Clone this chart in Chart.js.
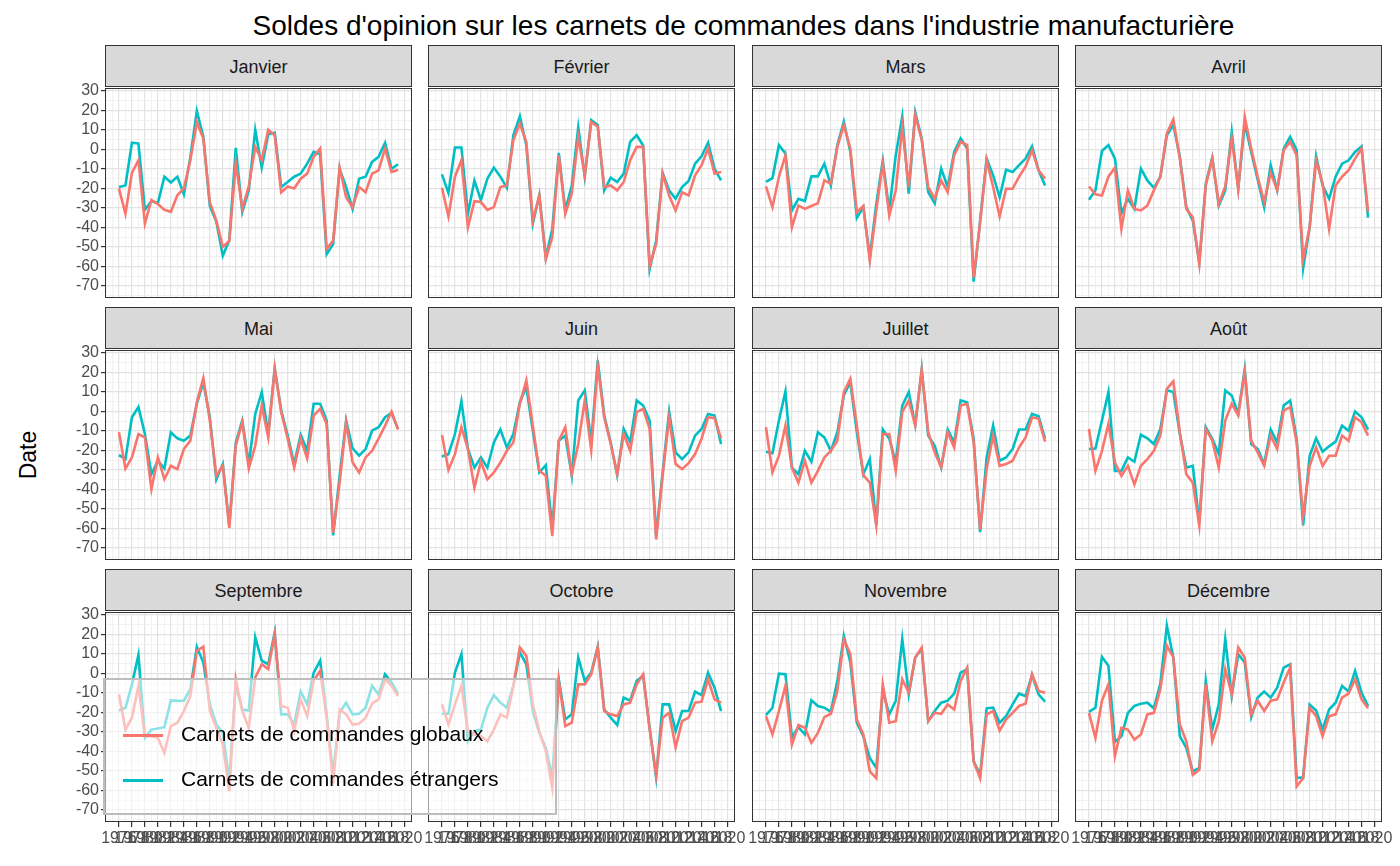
<!DOCTYPE html>
<html>
<head>
<meta charset="utf-8">
<script src="https://cdn.jsdelivr.net/npm/chart.js@4"></script>
<style>
  body { margin: 0; background: #fff; font-family: "Liberation Sans", Arial, sans-serif; }
  #wrap { position: relative; width: 1400px; height: 866px; overflow: hidden; }
  .title { position: absolute; top: 10px; left: 105px; width: 1277px; text-align: center; font-size: 28px; color: #000; white-space: nowrap; }
  .ytitle { position: absolute; left: 28px; top: 455px; transform: translate(-50%, -50%) rotate(-90deg); font-size: 23px; color: #000; }
  .strip { position: absolute; height: 42px; background: #D9D9D9; border: 1px solid #333; box-sizing: border-box;
           text-align: center; line-height: 42px; font-size: 18px; color: #1a1a1a; }
  canvas { position: absolute; }
  .legend { position: absolute; left: 103px; top: 678px; width: 454px; height: 137px; box-sizing: border-box;
            background: rgba(255,255,255,0.55); border: 2px solid #bdbdbd; }
  .legend .item { position: absolute; left: 18px; font-size: 21px; color: #000; white-space: nowrap; }
  .legend .swatch { display: inline-block; width: 40px; height: 3px; vertical-align: middle; margin-right: 18px; }
</style>
</head>
<body>
<div id="wrap">
  <div class="title">Soldes d'opinion sur les carnets de commandes dans l'industrie manufacturière</div>
  <div class="ytitle">Date</div>
</div>
<script>
const years = [];
for (let y = 1976; y <= 2019; y++) years.push(y);
const tickYears = [1976, 1978, 1980, 1982, 1984, 1986, 1988, 1990, 1992, 1994, 1996, 1998, 2000, 2002, 2004, 2006, 2008, 2010, 2012, 2014, 2016, 2018, 2020];
const yTicks = [30, 20, 10, 0, -10, -20, -30, -40, -50, -60, -70];

const months = ["Janvier", "Février", "Mars", "Avril", "Mai", "Juin", "Juillet", "Août", "Septembre", "Octobre", "Novembre", "Décembre"];
const seriesNames = ["Carnets de commandes globaux", "Carnets de commandes étrangers"];

// G = globaux, E = étrangers
const janG = [-20,-33,-12,-5.5,-38,-26,-28,-31,-32,-23.5,-20,-5.5,14,5.6,-27,-36.5,-50,-47,-7,-30.5,-19,1.3,-5.5,10,7.3,-22,-19,-20,-15,-12.4,-3.8,0.5,-51,-46.8,-9.3,-24.5,-29.6,-19.3,-22,-12.4,-10.7,0.5,-11.6,-10.4];
const janE = [-19.3,-18.5,3.4,3,-31,-26.5,-27.5,-14,-17,-14,-23,-4,19.7,6.5,-29,-37,-54.5,-46.5,0.8,-32,-21,10,-9.3,7.8,8.5,-19.3,-16.7,-14,-12.4,-7.3,-1.3,-2.5,-53.7,-48.5,-10,-19.3,-30.5,-15,-14,-6.4,-3.8,3.4,-10,-7.6];
const fevG = [-19.7,-34.4,-14,-5.6,-40,-26.5,-27,-31,-29.6,-19.3,-18.5,4.7,13.3,3.8,-36.5,-23.6,-56.3,-45,-3,-33,-22.7,6.5,-13.3,14,11.6,-19.3,-18.5,-21,-16.7,-5.6,1.3,1.3,-59.7,-48.5,-12.4,-23.6,-31.3,-22,-23.6,-13.3,-8.1,0.4,-12.4,-11.6];
const fevE = [-12.8,-22.4,1,1,-33,-16,-26,-15,-9.3,-14,-19.7,7.3,17,2,-38,-23.6,-55.4,-40.8,-1.8,-31.3,-18.5,11.3,-14,15,12.5,-21,-14.5,-16.7,-12.4,3.9,7.3,2,-61.4,-46.8,-12,-21,-25.3,-19.3,-16.2,-7.3,-3.5,3.4,-10,-15.9];
const marG = [-19,-29.6,-14,-3,-40,-28.8,-30.5,-29,-27.6,-15.9,-17.6,1.3,12.5,0.4,-32.2,-29,-57.1,-31.3,-7.3,-33.9,-21,11.6,-19.3,17.6,4.7,-19.3,-25.3,-15.9,-21.9,-3,3.9,2.2,-65.7,-37.4,-5.6,-19.3,-34.4,-20.2,-20.2,-14,-8.7,-0.4,-10.7,-15];
const marE = [-16.7,-14.7,2.2,-2.1,-31.3,-25.3,-26.5,-13.8,-13.8,-7.3,-18.5,2.2,14.2,-1.3,-35.1,-29.6,-55.4,-27.9,-5.6,-31.3,-3,16.8,-22.7,19,5.6,-21.9,-27.6,-9.9,-19.3,-1.3,5.6,0.4,-67.8,-36.5,-4.7,-13.3,-24.5,-10.4,-11.6,-8.1,-4.7,1.6,-10.7,-18.5];
const avrG = [-19,-23,-23.6,-14,-9.3,-40.8,-21,-30.5,-31.3,-28.8,-21,-14,8.2,15.4,-4.7,-30.5,-34.8,-58.8,-18.5,-4.7,-27.9,-19,5.6,-20.2,16.8,0.4,-14,-27,-12,-21,-0.4,3.9,-3,-56.3,-39.9,-5.6,-17.6,-40.8,-18.5,-14,-10.7,-4.7,0.4,-32];
const avrE = [-25.8,-21,-0.8,2.2,-4.7,-32.7,-25.3,-30.5,-9.9,-15.9,-19.7,-14,7.3,12.5,-3.8,-29.6,-36.5,-58,-17.6,-4.2,-28.8,-21,9,-20.2,13.3,-1.3,-15.5,-29.6,-8.1,-21,0.4,6.5,-0.4,-60.9,-39.9,-3.5,-18.5,-25.3,-14,-7.3,-5.6,-1.3,1.6,-35];
const maiG = [-10.7,-29.3,-23.6,-11.6,-13.3,-39.9,-23.6,-34.8,-27.9,-29.6,-19.3,-15,4.7,17.1,-4.7,-33,-27.9,-59.7,-17.6,-5.6,-29.3,-17.6,3,-13.3,21.9,-0.4,-14,-28.8,-14,-24.1,-2.1,1.3,-6.4,-62.3,-36.5,-5.6,-26.2,-31.3,-23.6,-20.2,-14,-7.3,-0.1,-9.3];
const maiE = [-22.4,-24.5,-3,2.2,-11.6,-32.2,-25.3,-29.3,-10.7,-13.8,-15,-12.4,3.9,15,-3,-34.8,-27,-58.5,-15.9,-4.7,-27,-1.3,9.9,-11.6,22.3,0.4,-12.4,-27,-12,-20.2,3.9,3.9,-4.7,-63.6,-33,-4.7,-19,-22.7,-19.3,-9.9,-8.1,-3,-0.8,-9];
const juiG = [-12.1,-30,-21.9,-8.1,-19.3,-39.1,-25.8,-34.8,-31.3,-26.2,-20.2,-15.9,3.9,15.9,-7.3,-30.5,-33,-64,-15,-8.1,-32.2,-16.7,5.6,-19.7,23.6,-3,-16.7,-32.2,-11.6,-20.2,-0.4,1.3,-9,-65.7,-33,-3,-27,-29.6,-26.5,-21.9,-14,-3,-3.5,-13.8];
const juiE = [-23.1,-21.9,-11.6,5.1,-19.3,-28.8,-23.6,-28.8,-15.9,-9.3,-18.5,-11.6,4.7,12.5,-9.9,-31.3,-27.6,-59.7,-15,-12.4,-33,5.6,10.8,-15.9,26.2,-2.1,-15.9,-32.7,-9,-15.9,5.6,3,-4.7,-64,-31.3,-0.1,-21,-24.5,-21,-12.4,-9,-1.3,-2.1,-16.7];
const julG = [-8.1,-31.3,-22.7,-7.3,-28.8,-36.5,-25.3,-36.5,-30.5,-23.6,-20.2,-15,9.9,16.8,-7.3,-32.7,-36.5,-58.5,-11.6,-11.6,-30.5,-0.4,5.6,-7.3,21.1,-10.7,-21,-28.8,-10.7,-18.5,3,3.9,-15.9,-60.5,-29.6,-12.4,-27.9,-27,-25.3,-18.5,-13.3,-3,-3.8,-15.5];
const julE = [-20.7,-21.4,-4.7,10.2,-28.8,-32.2,-20.2,-25.8,-10.7,-13.3,-20.2,-10.7,8.2,15,-10.7,-32.2,-24.5,-58,-9.3,-14,-26.2,3,9.9,-6.9,21.6,-12.4,-17.6,-28.8,-9.3,-15.9,5.6,4.7,-14,-61.9,-23.6,-7.3,-25.3,-23.6,-19.3,-9.3,-9.3,-1.3,-2.5,-14];
const aouG = [-9,-30.5,-20.2,-6.4,-26.2,-33,-27.9,-37.4,-27.9,-24.5,-20.2,-12.4,11.6,15.4,-10.7,-32.2,-36.5,-58.5,-9,-15,-28.8,-4.7,3.9,-2.1,20.2,-15,-21,-27.9,-12.4,-19.3,0.4,2.2,-15.9,-53.7,-27.9,-18.5,-27.9,-22.7,-22.7,-12.4,-15,-3,-5.6,-12.4];
const aouE = [-19.3,-19,-4.7,9.9,-30.5,-30.5,-23.6,-25.8,-12,-13.8,-16.7,-9,10.8,9.9,-11.6,-28.8,-27.9,-57.1,-8.1,-14,-21.9,10.8,8.2,-1.3,21.6,-16.7,-19.3,-27,-9.3,-15.9,3,5.6,-14,-58.5,-22.7,-13.8,-20.7,-17.9,-15.5,-7.3,-9.9,-0.1,-3,-9.3];
const sepG = [-10.7,-28.8,-22.7,-6.4,-32.2,-32.2,-33,-40.8,-27,-25.3,-19.3,-11.6,11.6,13.7,-19.3,-27.9,-36.5,-60.5,-3,-19.3,-27.9,-2.1,4.7,2.2,20.2,-16.7,-17.6,-29.6,-13.3,-21.9,-3.8,1.3,-22.7,-56.3,-18.5,-21,-26.2,-25.8,-22.7,-15.5,-13.3,-3,-6.4,-11.6];
const sepE = [-19,-17.6,-5.6,9.5,-33,-28.8,-28.2,-27.6,-13.8,-14,-14,-8.1,13.7,5.6,-15.9,-26.2,-30.5,-55.4,-5.6,-18.5,-19,18.5,6.5,4.7,21.1,-21,-21,-26.2,-9.3,-15.9,0.4,6.5,-21,-52,-20.2,-15,-21,-20.7,-17.6,-6.4,-10.7,-0.4,-4.7,-10.4];
const octG = [-15.9,-26.2,-15.9,-6.4,-29.6,-31.3,-32.2,-34.8,-28.8,-21,-22.7,-6.4,13.3,9,-15.9,-29.6,-39.9,-58.8,-3.8,-27,-25.3,-5.6,-5.6,-0.4,13.3,-19.3,-21,-21.9,-15.9,-15,-5.6,-0.4,-28.8,-52,-22.7,-20.2,-37.9,-24.5,-22.7,-15,-14.5,-3,-13.3,-15];
const octE = [-20.7,-20.7,0.4,9.9,-34.8,-29.6,-28.8,-17.6,-11.1,-15,-17.6,-6.4,10.8,4.7,-19.3,-30.5,-38.2,-53.3,-3,-23.6,-21,8.2,-3.8,0.4,13.7,-18.5,-22.7,-26.5,-12.4,-14,-3.8,-1.3,-27.9,-53.3,-15.9,-15.9,-29.6,-19.3,-19.3,-9.3,-11.1,0.4,-7.3,-19.3];
const novG = [-21.9,-31.3,-19.3,-6.4,-36.5,-26.5,-27.9,-35.6,-30.5,-22.4,-20.7,-9,17.6,9.9,-23.6,-31.3,-50.2,-53.7,-5.6,-25.3,-24.5,-3,-9.9,8.2,13.3,-24.5,-20.2,-20.7,-15.9,-18.5,-3.8,3,-45.1,-53.7,-21,-19.3,-29.3,-23.6,-20.2,-16.7,-15.5,-0.4,-9,-9.9];
const novE = [-21.4,-17.6,-0.1,-0.4,-32.7,-27.6,-31.3,-13.8,-16.7,-17.6,-19.7,-3.8,19.3,5.6,-25.3,-32.2,-43.4,-48.5,-9,-21,-14,17.6,-10.7,8.2,12.5,-24.5,-19.3,-15,-14,-10.4,0.4,2.2,-45.1,-52,-17.9,-17.6,-25.3,-21.9,-15.9,-10.4,-11.6,-0.8,-10.7,-14.5];
const decG = [-20.2,-33,-14,-5.6,-42.5,-27.9,-28.8,-33.9,-31.3,-21,-20.2,-8.1,14.2,8.2,-26.2,-34.8,-52,-49.4,-5.6,-34.8,-24.5,2.2,-10.7,13.3,8.2,-21,-14,-19.3,-14,-13.3,-4.7,3,-58,-53.7,-17.6,-21.9,-32.2,-21.9,-21,-12.4,-10.4,-3,-13.3,-17.9];
const decE = [-19.7,-17.6,8.5,3.9,-35.1,-32.2,-20.2,-16.7,-15.5,-15,-17.9,-5.2,24.5,8.2,-32.2,-38.2,-50.2,-48.5,-3.8,-28.8,-15.9,17.6,-11.6,9.9,5.6,-22.4,-12.4,-9.3,-12.4,-7.3,3,4.7,-53.7,-53.3,-15.9,-19,-28.8,-18.5,-15,-6.4,-9.3,1.3,-9.9,-16.7];

const globaux = [janG, fevG, marG, avrG, maiG, juiG, julG, aouG, sepG, octG, novG, decG];
const etrangers = [janE, fevE, marE, avrE, maiE, juiE, julE, aouE, sepE, octE, novE, decE];

const colRed = '#F8766D';
const colTeal = '#00BFC4';
const plotLefts = [105, 428, 752, 1075];
const plotTops = [88, 350, 612];
const plotW = 307, plotH = 210;
const padTop = 14;

const borderPlugin = {
  id: 'panelBorder',
  afterDraw(chart) {
    const a = chart.chartArea, c = chart.ctx;
    c.save();
    c.strokeStyle = '#333';
    c.lineWidth = 1;
    c.strokeRect(a.left + 0.5, a.top + 0.5, a.right - a.left - 1, a.bottom - a.top - 1);
    c.restore();
  }
};

const wrap = document.getElementById('wrap');

months.forEach((m, idx) => {
  const col = idx % 4, row = Math.floor(idx / 4);
  const strip = document.createElement('div');
  strip.className = 'strip';
  strip.style.left = plotLefts[col] + 'px';
  strip.style.top = (plotTops[row] - 43) + 'px';
  strip.style.width = plotW + 'px';
  strip.textContent = m;
  wrap.appendChild(strip);

  const canvas = document.createElement('canvas');
  canvas.style.left = (plotLefts[col] - 40) + 'px';
  canvas.style.top = (plotTops[row] - padTop) + 'px';
  canvas.style.width = (plotW + 60) + 'px';
  canvas.style.height = (plotH + 40 + padTop) + 'px';
  canvas.width = plotW + 60;
  canvas.height = plotH + 40 + padTop;
  wrap.appendChild(canvas);

  const showY = col === 0, showX = row === 2;
  new Chart(canvas.getContext('2d'), {
    type: 'line',
    data: {
      datasets: [
        { label: seriesNames[0], data: years.map((y, i) => ({ x: y, y: globaux[idx][i] })),
          borderColor: colRed, borderWidth: 2.6, pointRadius: 0, tension: 0, fill: false },
        { label: seriesNames[1], data: years.map((y, i) => ({ x: y, y: etrangers[idx][i] })),
          borderColor: colTeal, borderWidth: 2.6, pointRadius: 0, tension: 0, fill: false }
      ]
    },
    options: {
      responsive: false,
      animation: false,
      devicePixelRatio: 1,
      layout: { padding: { left: 0, right: 20, top: padTop, bottom: 0 } },
      plugins: { legend: { display: false }, tooltip: { enabled: false } },
      scales: {
        x: {
          type: 'linear', min: 1973.85, max: 2021.15,
          afterBuildTicks: s => { s.ticks = []; for (let y = 1974; y <= 2021; y++) s.ticks.push({ value: y }); },
          afterFit: s => { s.height = 40; },
          grid: {
            color: c => (c.tick && c.tick.value % 2 === 0) ? '#E3E3E3' : '#EDEDED',
            lineWidth: c => (c.tick && c.tick.value % 2 === 0) ? 1.2 : 0.7,
            drawTicks: showX, tickLength: 5,
            tickColor: c => (c.tick && tickYears.includes(c.tick.value)) ? '#333' : 'rgba(0,0,0,0)'
          },
          border: { display: false },
          ticks: {
            display: showX, autoSkip: false, maxRotation: 0, minRotation: 0, padding: 2,
            color: '#4D4D4D', font: { size: 16, family: 'Liberation Sans' },
            callback: v => tickYears.includes(v) ? String(v) : ''
          }
        },
        y: {
          min: -76.2, max: 31.5,
          afterBuildTicks: s => { s.ticks = []; for (let v = -75; v <= 30; v += 5) s.ticks.push({ value: v }); },
          afterFit: s => { s.width = 40; },
          grid: {
            color: c => (c.tick && c.tick.value % 10 === 0) ? '#E3E3E3' : '#EDEDED',
            lineWidth: c => (c.tick && c.tick.value % 10 === 0) ? 1.2 : 0.7,
            drawTicks: showY, tickLength: 4,
            tickColor: c => (c.tick && yTicks.includes(c.tick.value)) ? '#333' : 'rgba(0,0,0,0)'
          },
          border: { display: false },
          ticks: {
            display: showY, autoSkip: false, padding: 2,
            color: '#4D4D4D', font: { size: 16, family: 'Liberation Sans' },
            callback: v => yTicks.includes(v) ? String(v) : ''
          }
        }
      }
    },
    plugins: [borderPlugin]
  });
});

const legend = document.createElement('div');
legend.className = 'legend';
legend.innerHTML =
  '<div class="item" style="top:42px"><span class="swatch" style="background:' + colRed + '"></span>' + seriesNames[0] + '</div>' +
  '<div class="item" style="top:87px"><span class="swatch" style="background:' + colTeal + '"></span>' + seriesNames[1] + '</div>';
wrap.appendChild(legend);
</script>
</body>
</html>
